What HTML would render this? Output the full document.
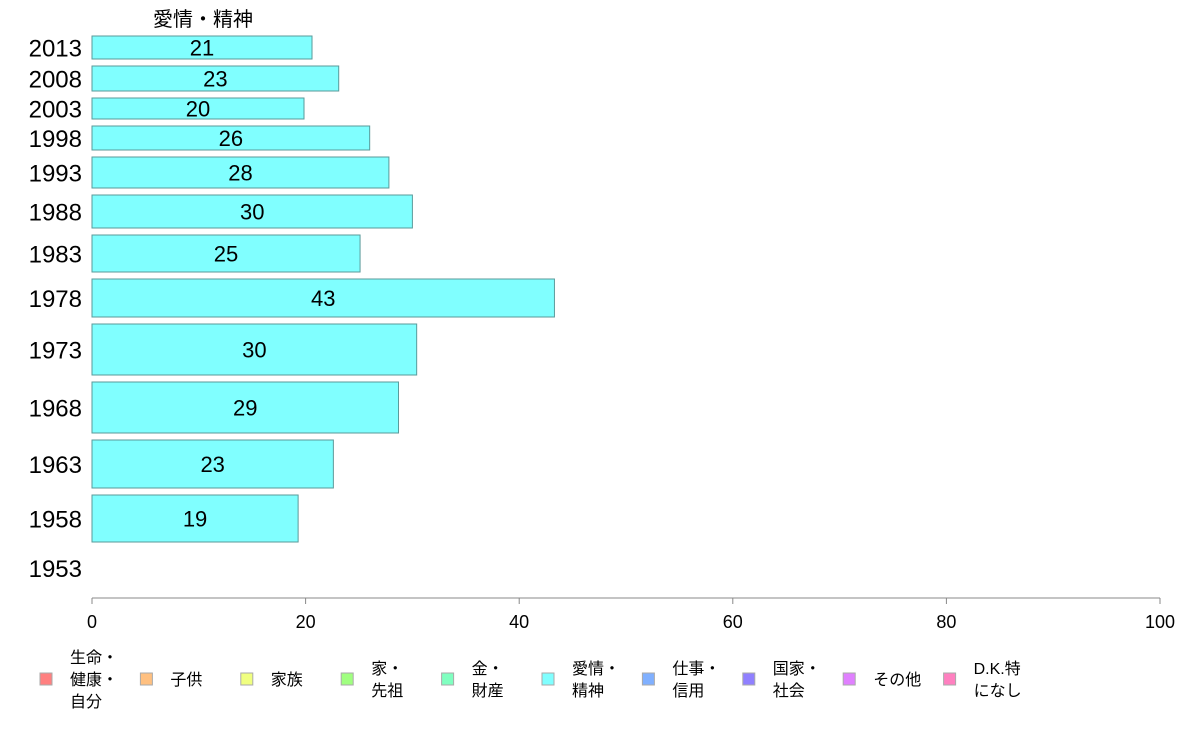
<!DOCTYPE html>
<html><head><meta charset="utf-8">
<style>
body{margin:0;background:#fff;font-family:"Liberation Sans","Noto Sans CJK JP",sans-serif;}
svg text{font-family:"Liberation Sans","Noto Sans CJK JP",sans-serif;}
</style></head>
<body>
<svg id="chart" width="1188" height="736"></svg>
<script>
const years = ["2013","2008","2003","1998","1993","1988","1983","1978","1973","1968","1963","1958","1953"];
const values = [20.6,23.1,19.85,26.0,27.8,30.0,25.1,43.3,30.4,28.7,22.6,19.3,null];
const labels = ["21","23","20","26","28","30","25","43","30","29","23","19",""];
const sizes = [23,25,21,24,31,33,37,38,51,51,48,47,38];
const ticks = [0,20,40,60,80,100];
const legendNames = [["生命・","健康・","自分"],["子供"],["家族"],["家・","先祖"],["金・","財産"],["愛情・","精神"],["仕事・","信用"],["国家・","社会"],["その他"],["D.K.特","になし"]];
const legendColors = ["#ff8080","#ffc080","#f0ff80","#a0ff80","#80ffc0","#80ffff","#80b0ff","#9080ff","#e080ff","#ff80c0"];

const NS="http://www.w3.org/2000/svg";
const svgEl=document.getElementById('chart');
function mk(t,a,p){const e=document.createElementNS(NS,t);for(const k in a)e.setAttribute(k,a[k]);(p||svgEl).appendChild(e);return e;}
const xStart=92,xEnd=1160;
const xs=v=>xStart+(xEnd-xStart)*v/100;
const gap=7, topY=36;

const title=mk('text',{x:203,y:26,'font-size':20,'text-anchor':'middle',fill:'#000'});
title.textContent="愛情・精神";



let yPos=topY;
years.forEach((yr,i)=>{
  const h=sizes[i];
  const lab=mk('text',{x:82,y:yPos+h/2+9,'font-size':24,'text-anchor':'end',fill:'#000'});
  lab.textContent=yr;
  
  
  if(values[i]!=null){
    const r=mk('rect',{x:xStart,y:yPos,width:xs(values[i])-xStart,height:h,fill:'#80ffff',stroke:'#5a9a9a','stroke-width':1});
    
    
    const t=mk('text',{x:(xStart+xs(values[i]))/2,y:yPos+h/2+8,'font-size':22,'text-anchor':'middle',fill:'#000'});
    t.textContent=labels[i];
    
    
  }
  yPos+=h+gap;
});

const ax=mk('line',{x1:xStart,x2:xEnd,y1:598,y2:598,stroke:'#888'});


ticks.forEach(v=>{
  const l=mk('line',{x1:xs(v),x2:xs(v),y1:598,y2:604,stroke:'#888'});
  
  
  const t=mk('text',{x:xs(v),y:628,'font-size':18,'text-anchor':'middle',fill:'#000'});
  t.textContent=v;
  
  
});

legendNames.forEach((lines,i)=>{
  const bx=40+i*100.4;
  const g=mk('g',{});
  
  
  mk('rect',{x:bx,y:673,width:12,height:12,fill:legendColors[i],stroke:'#aaa'},g);
  const n=lines.length;
  const startY=685-(n-1)*11;
  lines.forEach((s,j)=>{
    const t=mk('text',{x:bx+30,y:startY+j*22,'font-size':16,fill:'#000'},g);
    t.textContent=s;
  });
});
</script>
</body></html>
